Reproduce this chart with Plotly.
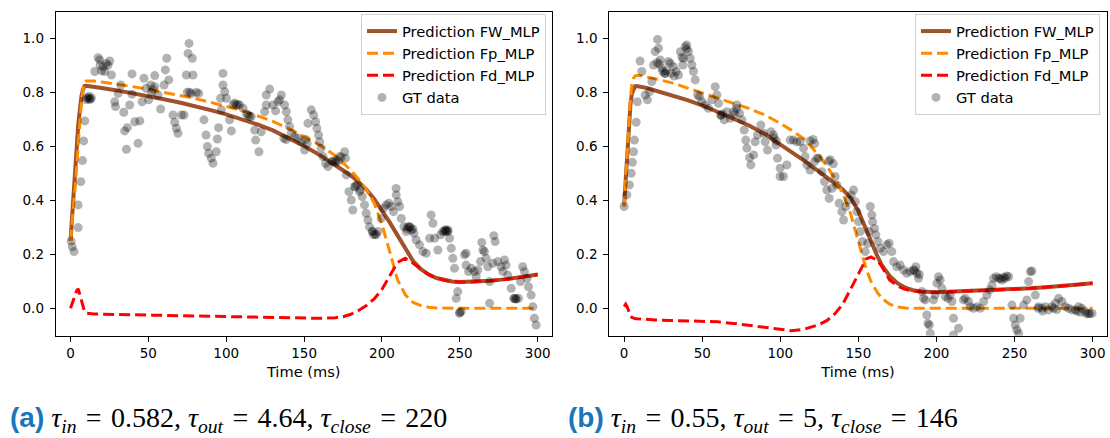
import plotly.graph_objects as go

# ---------------- Panel (a) ----------------
t_curve_a = [0, 1, 2, 3, 4, 5, 6, 7, 8, 9, 10, 12, 15, 20, 30, 40, 50, 60, 70, 80, 90, 100,
             110, 120, 130, 140, 150, 160, 170, 175, 180, 185, 190, 195, 200, 205, 210, 215,
             220, 225, 230, 235, 240, 245, 250, 260, 270, 280, 290, 300]
fw_a = [0.25, 0.325, 0.40, 0.50, 0.596, 0.682, 0.74, 0.785, 0.81, 0.823, 0.824, 0.823, 0.821,
        0.816, 0.807, 0.797, 0.786, 0.774, 0.762, 0.749, 0.734, 0.718, 0.701, 0.681, 0.659,
        0.632, 0.601, 0.568, 0.53, 0.512, 0.492, 0.468, 0.44, 0.405, 0.363, 0.318, 0.27, 0.222,
        0.175, 0.145, 0.125, 0.112, 0.104, 0.099, 0.097, 0.098, 0.102, 0.108, 0.116, 0.125]
fp_a = [0.25, 0.31, 0.37, 0.45, 0.53, 0.61, 0.69, 0.76, 0.81, 0.835, 0.842, 0.843, 0.842,
        0.838, 0.83, 0.821, 0.811, 0.80, 0.789, 0.777, 0.763, 0.748, 0.732, 0.713, 0.692,
        0.666, 0.636, 0.605, 0.565, 0.54, 0.512, 0.478, 0.44, 0.39, 0.31, 0.21, 0.105, 0.05,
        0.022, 0.01, 0.004, 0.001, 0.0, 0.0, 0.0, 0.0, 0.0, 0.0, 0.0, 0.0]
fd_a = [0.0, 0.015, 0.03, 0.05, 0.066, 0.072, 0.05, 0.025, 0.0, -0.012, -0.018, -0.02, -0.021,
        -0.022, -0.023, -0.024, -0.025, -0.026, -0.027, -0.028, -0.029, -0.03, -0.031, -0.032,
        -0.033, -0.034, -0.035, -0.037, -0.035, -0.031, -0.022, -0.008, 0.01, 0.035, 0.07,
        0.12, 0.17, 0.185, 0.167, 0.145, 0.125, 0.112, 0.104, 0.099, 0.097, 0.098, 0.102,
        0.108, 0.116, 0.125]
gt_t_a = [0.4, 1.1, 2.3, 4.9, 4.9, 6.6, 7.7, 8.5, 9.2, 10.2, 11.3, 12.4, 13.4, 15.6, 17.7, 18.8,
          21, 22, 23, 25.2, 26.3, 28.4, 28.9, 30.6, 32.3, 34.2, 34.8, 35.9, 36.5, 38, 39.5, 39.5,
          41.3, 43.4, 44.5, 46, 47.2, 48.7, 50.2, 51.5, 54.1, 54.1, 56.2, 57.9, 60.1, 60.9, 61.8,
          63.1, 65.8, 66.9, 68, 69, 71.2, 72.9, 74.4, 75.5, 76.1, 78.2, 78.7, 80.8, 82.3, 85.7,
          87, 87.9, 88.7, 90.4, 91.5, 93.6, 94.3, 95.1, 96.4, 96.9, 97.9, 97.9, 99, 100.1,
          102.2, 103.3, 106.5, 108.6, 110.8, 114, 116.1, 118.3, 118.9, 121.0, 122.5, 124.7,
          125.7, 125.7, 127.9, 130, 131.7, 133.2, 134.3, 135.4, 137.5, 138.6, 139.6, 140.7,
          141.8, 143.9, 146.1, 148.2, 150.3, 152.5, 154.6, 156.1, 157.4, 158.2, 159.3, 160,
          161, 162.1, 163.8, 165.3, 168.5, 170.6, 172.8, 176, 176.6, 177.1, 178.8, 180.3,
          181.3, 182.4, 183.9, 185.6, 187.3, 188.8, 189.9, 191, 192, 193.7, 194.6, 196.3,
          197.4, 199.5, 201, 202.7, 204.4, 205.9, 207.4, 209.1, 209.2, 210.2, 211.3, 212.4,
          214.1, 215.6, 216.7, 217.7, 219.9, 220.5, 222, 224.1, 226.3, 228.4, 230.6, 231.6,
          232.7, 233.8, 235.9, 237.6, 239.1, 240.2, 241.2, 242.3, 243.4, 244.5, 245.5, 246.6,
          247.7, 248.7, 249.8, 250.9, 253, 254, 254, 255.6, 257.3, 259.4, 260.5, 261.6, 263.3,
          264.1, 264.8, 265.8, 266.9, 268, 269.1, 269.1, 271.2, 271.8, 272.7, 274.4, 276.5,
          277.6, 278.7, 279.7, 280.8, 283, 284.7, 286.2, 287.7, 289, 290.4, 291.5, 293.2,
          294.1, 295.8, 296.9, 297.9, 299,
          10.5, 11.8, 12.8, 19, 20, 24, 52, 53, 75, 76.5, 77.5, 104.5, 105.5, 107.5, 113, 115,
          137, 138.5, 151, 152, 168, 170, 172, 174, 183, 186, 194, 195.5, 216, 218, 219,
          240.5, 241.5, 242.5, 285, 286, 250]
gt_y_a = [0.249, 0.228, 0.21, 0.299, 0.383, 0.469, 0.547, 0.62, 0.694, 0.772, 0.778, 0.774,
          0.78, 0.877, 0.928, 0.92, 0.895, 0.877, 0.907, 0.916, 0.864, 0.765, 0.747, 0.796,
          0.827, 0.726, 0.657, 0.589, 0.669, 0.753, 0.793, 0.868, 0.691, 0.611, 0.694, 0.765,
          0.852, 0.815, 0.772, 0.827, 0.862, 0.821, 0.79, 0.738, 0.827, 0.883, 0.926, 0.846,
          0.716, 0.689, 0.667, 0.648, 0.716, 0.716, 0.864, 0.944, 0.981, 0.926, 0.864, 0.8,
          0.796, 0.698, 0.642, 0.599, 0.574, 0.556, 0.537, 0.58, 0.627, 0.669, 0.778, 0.735,
          0.87, 0.827, 0.802, 0.778, 0.698, 0.657, 0.753, 0.753, 0.741, 0.716, 0.71, 0.66,
          0.623, 0.58, 0.654, 0.728, 0.753, 0.79, 0.812, 0.753, 0.731, 0.765, 0.772, 0.79,
          0.753, 0.728, 0.698, 0.673, 0.648, 0.636, 0.63, 0.617, 0.586, 0.685, 0.735, 0.716,
          0.691, 0.667, 0.642, 0.617, 0.593, 0.562, 0.537, 0.525, 0.543, 0.549, 0.562, 0.58,
          0.556, 0.494, 0.432, 0.401, 0.364, 0.451, 0.457, 0.432, 0.414, 0.383, 0.352, 0.327,
          0.302, 0.284, 0.272, 0.272, 0.284, 0.333, 0.37, 0.383, 0.389, 0.377, 0.358, 0.444,
          0.42, 0.395, 0.377, 0.333, 0.302, 0.284, 0.302, 0.302, 0.294, 0.278, 0.253, 0.235,
          0.21, 0.204, 0.259, 0.346, 0.315, 0.259, 0.216, 0.272, 0.284, 0.284, 0.29, 0.284,
          0.259, 0.222, 0.185, 0.148, 0.037, 0.062, -0.019, -0.012, 0.198, 0.204, 0.16, 0.136,
          0.148, 0.136, 0.117, 0.142, 0.173, 0.244, 0.216, 0.21, 0.185, 0.154, 0.099, 0.019,
          0.167, 0.269, 0.247, 0.173, 0.154, 0.136, 0.179, 0.16, 0.123, 0.074, 0.037, 0.035,
          0.037, 0.099, 0.154, 0.136, 0.111, 0.08, 0.049, 0.006, -0.037, -0.062,
          0.78, 0.785, 0.775, 0.9, 0.88, 0.9, 0.80, 0.81, 0.80, 0.80, 0.795, 0.755, 0.76, 0.755,
          0.72, 0.71, 0.63, 0.625, 0.625, 0.61, 0.545, 0.54, 0.545, 0.56, 0.45, 0.44, 0.285,
          0.275, 0.295, 0.30, 0.29, 0.29, 0.285, 0.29, 0.036, 0.034, -0.015]

# ---------------- Panel (b) ----------------
t_curve_b = [0, 1, 2, 3, 4, 5, 6, 7, 8, 10, 12, 15, 20, 30, 40, 50, 60, 70, 80, 90, 100, 107,
             115, 125, 130, 135, 140, 145, 150, 155, 158, 162, 165, 170, 175, 180, 185, 190,
             200, 210, 220, 230, 240, 250, 260, 270, 280, 290, 300]
fw_b = [0.382, 0.485, 0.585, 0.675, 0.752, 0.796, 0.815, 0.822, 0.823, 0.822, 0.819, 0.815,
        0.807, 0.791, 0.772, 0.752, 0.728, 0.704, 0.677, 0.646, 0.607, 0.577, 0.548, 0.505,
        0.485, 0.462, 0.44, 0.41, 0.36, 0.29, 0.245, 0.195, 0.16, 0.12, 0.093, 0.076, 0.067,
        0.062, 0.059, 0.061, 0.064, 0.066, 0.068, 0.071, 0.074, 0.078, 0.082, 0.087, 0.093]
fp_b = [0.376, 0.47, 0.58, 0.69, 0.78, 0.83, 0.852, 0.86, 0.862, 0.862, 0.86, 0.857, 0.85,
        0.836, 0.818, 0.798, 0.778, 0.76, 0.74, 0.716, 0.685, 0.66, 0.628, 0.565, 0.525, 0.48,
        0.425, 0.35, 0.25, 0.145, 0.1, 0.06, 0.037, 0.015, 0.005, 0.001, 0.0, 0.0, 0.0, 0.0,
        0.0, 0.0, 0.0, 0.0, 0.0, 0.0, 0.0, 0.0, 0.0]
fd_b = [0.006, 0.015, 0.005, -0.015, -0.028, -0.034, -0.037, -0.038, -0.039, -0.04, -0.041,
        -0.042, -0.043, -0.045, -0.046, -0.048, -0.05, -0.056, -0.063, -0.07, -0.078, -0.083,
        -0.078, -0.06, -0.045, -0.02, 0.015, 0.07, 0.13, 0.183, 0.19, 0.178, 0.155, 0.105,
        0.083, 0.07, 0.064, 0.061, 0.059, 0.061, 0.064, 0.066, 0.068, 0.071, 0.074, 0.078,
        0.082, 0.087, 0.093]
gt_t_b = [0, 1.7, 3.4, 4.5, 5.3, 6, 6.6, 7.7, 8.5, 10.2, 11.3, 13.5, 14.9, 16.2, 17.7, 18.8,
          19.9, 21.4, 22, 23.1, 24.8, 26.3, 28.4, 29.5, 31.6, 33.3, 34.8, 37.6, 38, 39.1, 40.1,
          41.2, 42.3, 43.4, 44.4, 45.5, 47, 48.3, 49.8, 51.9, 54, 56.2, 58.3, 59.4, 60.4, 61.9,
          64.1, 65.8, 67.9, 70, 72.2, 73.9, 75.4, 76.9, 77.9, 78.6, 80.3, 81.1, 82.9, 83.9,
          85.4, 87.5, 89.3, 90.3, 91.8, 94, 95.7, 97.2, 98.2, 99.9, 99.9, 102, 104.2, 106.3,
          108.4, 110.6, 112.7, 114.9, 115.9, 117, 119.1, 121.9, 123.4, 124.5, 126.6, 128.3,
          129.8, 131.3, 133, 135.1, 136.2, 137.7, 139.4, 140.5, 142, 143.7, 145.4, 146.9, 148,
          149, 150.1, 151.2, 152.6, 154.4, 156.1, 156.9, 157.6, 158.6, 159.1, 160.3, 161.2,
          162.5, 164, 166.1, 168.2, 169.7, 171.4, 172.5, 174.6, 176.8, 178.9, 181, 183.2,
          185.3, 186.8, 188.5, 190.7, 191.7, 192.8, 193.8, 194.5, 195.4, 196, 198.1, 199.2,
          200.3, 201.3, 202.4, 203.5, 205.6, 207.3, 208.8, 209.9, 210.9, 210.9, 214.1, 217.3,
          218.4, 220.5, 221.6, 223.7, 225.9, 228, 230.2, 232.3, 234, 235.5, 236.6, 238.3,
          239.8, 241.9, 244.0, 246.2, 248.3, 249.4, 250.4, 251.5, 252.6, 253.6, 255.8, 257.9,
          259, 260.1, 261.1, 263.3, 265.4, 267.5, 269.7, 271.8, 273.9, 276.1, 278.2, 280.3,
          282.5, 284.6, 286.7, 288.9, 291, 293.1, 295.3, 297.4, 299.6,
          21, 22.5, 24, 26, 27, 30, 32, 36, 37, 40, 62, 63, 71, 72, 96, 97.5, 119, 121, 122,
          131, 132, 134, 186, 187.5, 189, 241, 243, 245, 265, 268, 275, 277, 290, 292, 296, 298]
gt_y_b = [0.377, 0.42, 0.457, 0.5, 0.541, 0.58, 0.623, 0.689, 0.765, 0.916, 0.877, 0.79, 0.772,
          0.802, 0.84, 0.901, 0.951, 0.996, 0.963, 0.92, 0.877, 0.87, 0.914, 0.907, 0.895,
          0.877, 0.864, 0.901, 0.926, 0.969, 0.975, 0.951, 0.926, 0.901, 0.877, 0.846, 0.79,
          0.784, 0.765, 0.753, 0.741, 0.772, 0.821, 0.79, 0.759, 0.716, 0.698, 0.728, 0.704,
          0.728, 0.753, 0.722, 0.698, 0.66, 0.623, 0.593, 0.558, 0.531, 0.568, 0.617, 0.642,
          0.679, 0.648, 0.617, 0.586, 0.654, 0.642, 0.605, 0.556, 0.519, 0.488, 0.488, 0.531,
          0.623, 0.623, 0.617, 0.617, 0.593, 0.562, 0.531, 0.512, 0.543, 0.556, 0.556, 0.506,
          0.469, 0.438, 0.407, 0.444, 0.488, 0.457, 0.389, 0.358, 0.327, 0.377, 0.401, 0.42,
          0.438, 0.395, 0.358, 0.321, 0.284, 0.247, 0.21, 0.241, 0.284, 0.377, 0.346, 0.321,
          0.296, 0.272, 0.247, 0.222, 0.21, 0.235, 0.241, 0.21, 0.173, 0.154, 0.16, 0.142,
          0.13, 0.136, 0.142, 0.154, 0.111, 0.062, 0.037, 0.031, -0.025, -0.056, -0.062,
          -0.093, 0.031, 0.049, 0.093, 0.117, 0.105, 0.074, 0.043, 0.037, 0.049, 0.025, -0.037,
          -0.099, -0.074, 0.031, 0.037, 0.025, 0.006, 0.0, 0.006, 0.0, 0.025, 0.049, 0.068,
          0.086, 0.111, 0.117, 0.111, 0.105, 0.111, 0.117, 0.012, -0.037, -0.062, -0.08,
          -0.093, -0.037, 0.012, 0.031, 0.099, 0.136, 0.138, 0.049, 0.006, 0.0, 0.006, -0.006,
          0.006, 0.019, 0.037, 0.025, 0.006, 0.0, -0.006, -0.006, 0.006, 0.0, -0.012, -0.019,
          -0.019,
          0.91, 0.905, 0.89, 0.87, 0.88, 0.87, 0.86, 0.95, 0.93, 0.96, 0.715, 0.72, 0.72, 0.74,
          0.63, 0.62, 0.62, 0.625, 0.61, 0.545, 0.55, 0.535, 0.14, 0.13, 0.125, 0.11, 0.115,
          0.12, 0.0, -0.01, 0.0, -0.005, -0.01, -0.015, -0.02, -0.02]

x_ticks = [0, 50, 100, 150, 200, 250, 300]
y_ticks = [0.0, 0.2, 0.4, 0.6, 0.8, 1.0]
LABEL_STYLE = "color:#1b75bb;font-family:Liberation Sans"
SP = "&#8196;"
caption_a = (f"<span style='{LABEL_STYLE}'><b>(a)</b></span> <i>τ<sub>in</sub></i>{SP}={SP}0.582, "
             f"<i>τ<sub>out</sub></i>{SP}={SP}4.64, <i>τ<sub>close</sub></i>{SP}={SP}220")
caption_b = (f"<span style='{LABEL_STYLE}'><b>(b)</b></span> <i>τ<sub>in</sub></i>{SP}={SP}0.55, "
             f"<i>τ<sub>out</sub></i>{SP}={SP}5, <i>τ<sub>close</sub></i>{SP}={SP}146")

FONT = "DejaVu Sans"
fig = go.Figure()


def add_panel(xa, ya, leg, t_curve, fw, fp, fd, gt_t, gt_y):
    fig.add_trace(go.Scatter(x=t_curve, y=fw, mode="lines", name="Prediction FW_MLP",
                             line=dict(color="#a0522d", width=4), xaxis=xa, yaxis=ya,
                             legend=leg, legendgroup=leg + "1"))
    fig.add_trace(go.Scatter(x=t_curve, y=fp, mode="lines", name="Prediction Fp_MLP",
                             line=dict(color="#ff8c00", width=3, dash="11px,5px"),
                             xaxis=xa, yaxis=ya, legend=leg, legendgroup=leg + "2"))
    fig.add_trace(go.Scatter(x=t_curve, y=fd, mode="lines", name="Prediction Fd_MLP",
                             line=dict(color="#ff0000", width=3, dash="11px,5px"),
                             xaxis=xa, yaxis=ya, legend=leg, legendgroup=leg + "3"))
    fig.add_trace(go.Scatter(x=gt_t, y=gt_y, mode="markers", name="GT data",
                             marker=dict(color="rgba(0,0,0,0.3)", size=9, line=dict(width=0)),
                             xaxis=xa, yaxis=ya, legend=leg, legendgroup=leg + "4"))


add_panel("x", "y", "legend", t_curve_a, fw_a, fp_a, fd_a, gt_t_a, gt_y_a)
add_panel("x2", "y2", "legend2", t_curve_b, fw_b, fp_b, fd_b, gt_t_b, gt_y_b)

W, H = 1110, 438
ydom = [1 - 335.7 / H, 1 - 11.7 / H]
axis_common = dict(showline=True, linecolor="black", linewidth=1, mirror=True,
                   ticks="outside", ticklen=5, tickwidth=1, tickcolor="black",
                   showgrid=False, zeroline=False, automargin=False,
                   tickfont=dict(family=FONT, size=13.5, color="black"))
xcommon = dict(axis_common, range=[-9.5, 309], tickvals=x_ticks,
               title=dict(text="Time (ms)", font=dict(family=FONT, size=14.6, color="black"),
                          standoff=6))
ycommon = dict(axis_common, range=[-0.1015, 1.0985], tickvals=y_ticks, tickformat=".1f",
               ticklabelstandoff=3)

legend_common = dict(font=dict(family=FONT, size=14.7, color="black"),
                     bgcolor="rgba(255,255,255,0.8)", bordercolor="#d0d0d0", borderwidth=1,
                     xanchor="right", yanchor="top", y=1 - 14 / H,
                     traceorder="grouped", tracegroupgap=0, itemwidth=30)

fig.update_layout(
    width=W, height=H,
    margin=dict(l=0, r=0, t=0, b=0),
    paper_bgcolor="white", plot_bgcolor="white",
    xaxis=dict(xcommon, domain=[55.7 / W, 551.7 / W], anchor="y"),
    yaxis=dict(ycommon, domain=ydom, anchor="x"),
    xaxis2=dict(xcommon, domain=[609.3 / W, 1106.7 / W], anchor="y2"),
    yaxis2=dict(ycommon, domain=ydom, anchor="x2"),
    legend=dict(legend_common, x=546 / W),
    legend2=dict(legend_common, x=1100 / W),
    annotations=[
        dict(text=caption_a, x=8 / W, y=1 - 419 / H, xref="paper", yref="paper",
             xanchor="left", yanchor="middle", showarrow=False,
             font=dict(family="Liberation Serif", size=28, color="black")),
        dict(text=caption_b, x=566 / W, y=1 - 419 / H, xref="paper", yref="paper",
             xanchor="left", yanchor="middle", showarrow=False,
             font=dict(family="Liberation Serif", size=28, color="black")),
    ],
)

fig.write_html("out.html", config={"displayModeBar": False},
               post_script="document.body.style.margin='0';document.body.style.padding='0';")
